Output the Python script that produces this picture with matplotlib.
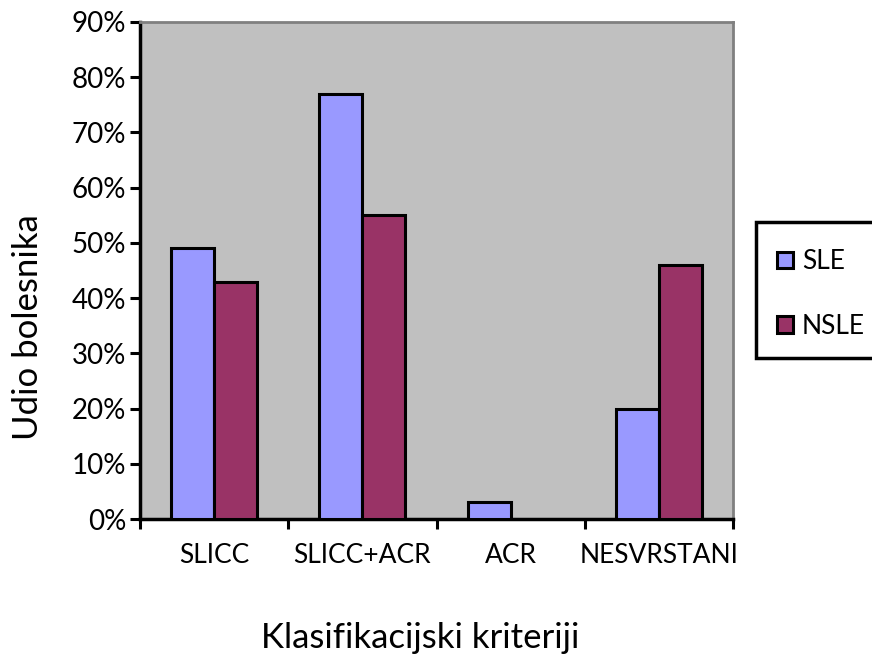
import matplotlib
matplotlib.use("Agg")
import matplotlib.pyplot as plt
import numpy as np
from matplotlib.ticker import FixedLocator, PercentFormatter
from matplotlib.patches import Rectangle

categories = ["SLICC", "SLICC+ACR", "ACR", "NESVRSTANI"]
sle = [49, 77, 3, 20]
nsle = [43, 55, 0, 46]
series_names = ["SLE", "NSLE"]
yticks = [0, 10, 20, 30, 40, 50, 60, 70, 80, 90]

plt.rcParams['font.family'] = ['Lato', 'DejaVu Sans']

fig = plt.figure(figsize=(8.72, 6.57), dpi=100)
ax = fig.add_axes([140/872, 1-519/657, (733-140)/872, (519-22)/657])
ax.set_facecolor("#C0C0C0")

x = np.arange(len(categories))
w = 0.29
b1 = ax.bar(x - w/2, sle, w, color="#9999FF", edgecolor="black", linewidth=2.2, label=series_names[0], zorder=3)
b2 = ax.bar(x + w/2, [v if v > 0 else np.nan for v in nsle], w, color="#993366", edgecolor="black", linewidth=2.2, label=series_names[1], zorder=3)

ax.set_xlim(-0.5, len(categories) - 0.5)
ax.set_ylim(0, 90)
ax.set_yticks(yticks)
ax.yaxis.set_major_formatter(PercentFormatter(decimals=0))
ax.set_xticks(x)
ax.set_xticklabels(categories, fontsize=19)
ax.xaxis.set_minor_locator(FixedLocator(np.arange(-0.5, len(categories), 1.0)))
ax.tick_params(axis='x', which='major', length=0, pad=17)
ax.tick_params(axis='x', which='minor', length=7, width=2.2, direction='out')
ax.tick_params(axis='y', length=7, width=2.2, direction='out', labelsize=20, pad=3)

for s in ["left", "bottom"]:
    ax.spines[s].set_linewidth(2.5)
    ax.spines[s].set_color("black")
for s in ["top", "right"]:
    ax.spines[s].set_linewidth(2.0)
    ax.spines[s].set_color("#808080")

fig.text(28/872, 1-327/657, "Udio bolesnika", rotation=90, ha="center", va="center", fontsize=25)
fig.text(420/872, 1-638/657, "Klasifikacijski kriteriji", ha="center", va="center", fontsize=25)

# legend frame
fig.patches.append(Rectangle((756/872, 1-358/657), 0.2, (358-222)/657, transform=fig.transFigure,
                             facecolor="white", edgecolor="black", linewidth=2.5, zorder=1))
leg = fig.legend(handles=[b1, b2], labels=series_names, loc="center left",
                 bbox_to_anchor=(777/872, 1-294/657),
                 fontsize=19, frameon=False,
                 handlelength=0.6, handleheight=0.6, handletextpad=0.35,
                 labelspacing=1.5, borderaxespad=0, borderpad=0)
leg.set_zorder(5)

fig.savefig("out.png", dpi=100)
